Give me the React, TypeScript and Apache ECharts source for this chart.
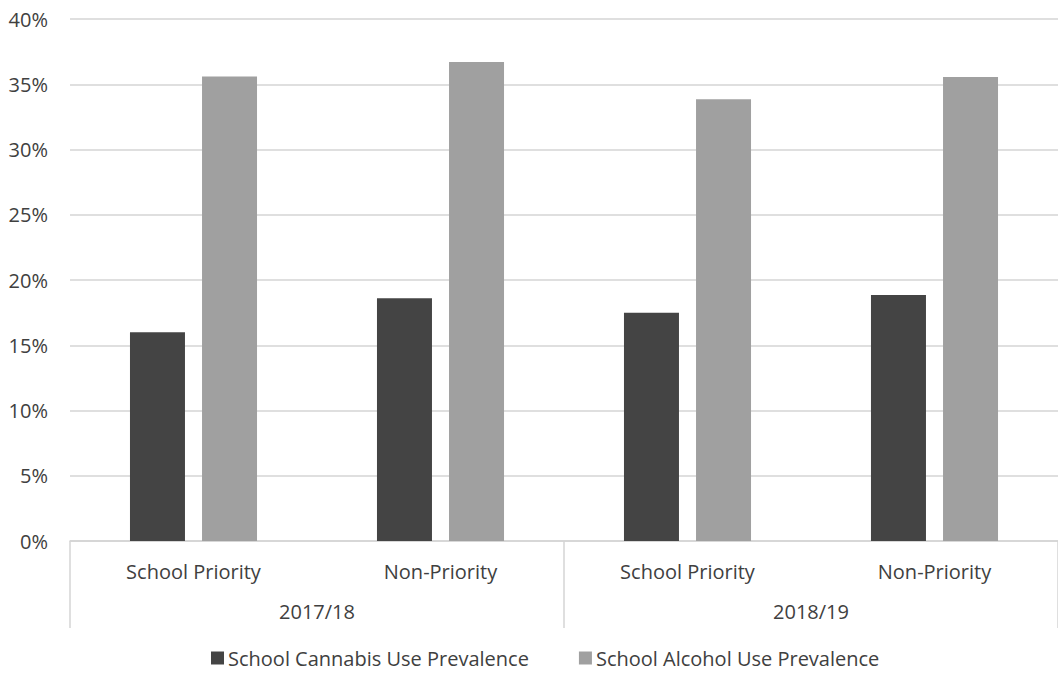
import React, { useEffect, useRef } from "react";
import * as echarts from "echarts";

const subCategories = ["School Priority", "Non-Priority", "School Priority", "Non-Priority"];
const yearLabels = ["2017/18", "2018/19"];
const cannabis = [16.0, 18.6, 17.5, 18.85];
const alcohol = [35.6, 36.7, 33.85, 35.55];
const seriesNames = ["School Cannabis Use Prevalence", "School Alcohol Use Prevalence"];
const yTicks = { min: 0, max: 40, interval: 5 };

const FONT = "'Open Sans', 'Noto Sans', sans-serif";
const TEXT = "#404040";
const GRID = "#d4d4d4";

export default function App() {
  const ref = useRef<HTMLDivElement>(null);
  useEffect(() => {
    const chart = echarts.init(ref.current!, null, { renderer: "svg" });
    chart.setOption({
      animation: false,
      textStyle: { fontFamily: FONT },
      grid: { left: 70, right: 0, top: 19, bottom: 133, containLabel: false },
      legend: {
        bottom: 1,
        left: 206,
        itemWidth: 13,
        itemHeight: 13,
        itemGap: 50,
        icon: "rect",
        textStyle: { fontFamily: FONT, fontSize: 20, color: TEXT, padding: [0, 0, 0, -1] },
        data: seriesNames,
      },
      xAxis: [
        {
          type: "category",
          data: subCategories,
          axisLine: { lineStyle: { color: GRID, width: 1.5 } },
          axisTick: { show: false },
          axisLabel: { margin: 20, fontSize: 20, color: TEXT, fontFamily: FONT },
        },
        {
          type: "category",
          data: yearLabels,
          position: "bottom",
          axisLine: { show: false },
          axisTick: { show: true, length: 87, interval: 0, lineStyle: { color: GRID, width: 1.5 } },
          axisLabel: { margin: 60, fontSize: 20, color: TEXT, fontFamily: FONT },
        },
      ],
      yAxis: {
        type: "value",
        min: yTicks.min,
        max: yTicks.max,
        interval: yTicks.interval,
        axisLine: { show: false },
        axisTick: { show: false },
        splitLine: { lineStyle: { color: GRID, width: 1.5 } },
        axisLabel: { formatter: "{value}%", margin: 22, fontSize: 20, color: TEXT, fontFamily: FONT },
      },
      series: [
        {
          name: seriesNames[0],
          type: "bar",
          xAxisIndex: 0,
          data: cannabis,
          barWidth: 55,
          barGap: "31%",
          itemStyle: { color: "#444444" },
        },
        {
          name: seriesNames[1],
          type: "bar",
          xAxisIndex: 0,
          data: alcohol,
          barWidth: 55,
          barGap: "31%",
          itemStyle: { color: "#a0a0a0" },
        },
      ],
    });
    return () => chart.dispose();
  }, []);
  return (
    <div
      ref={ref}
      style={{ position: "fixed", left: 0, top: 0, width: 1058, height: 674, background: "#fff" }}
    />
  );
}
